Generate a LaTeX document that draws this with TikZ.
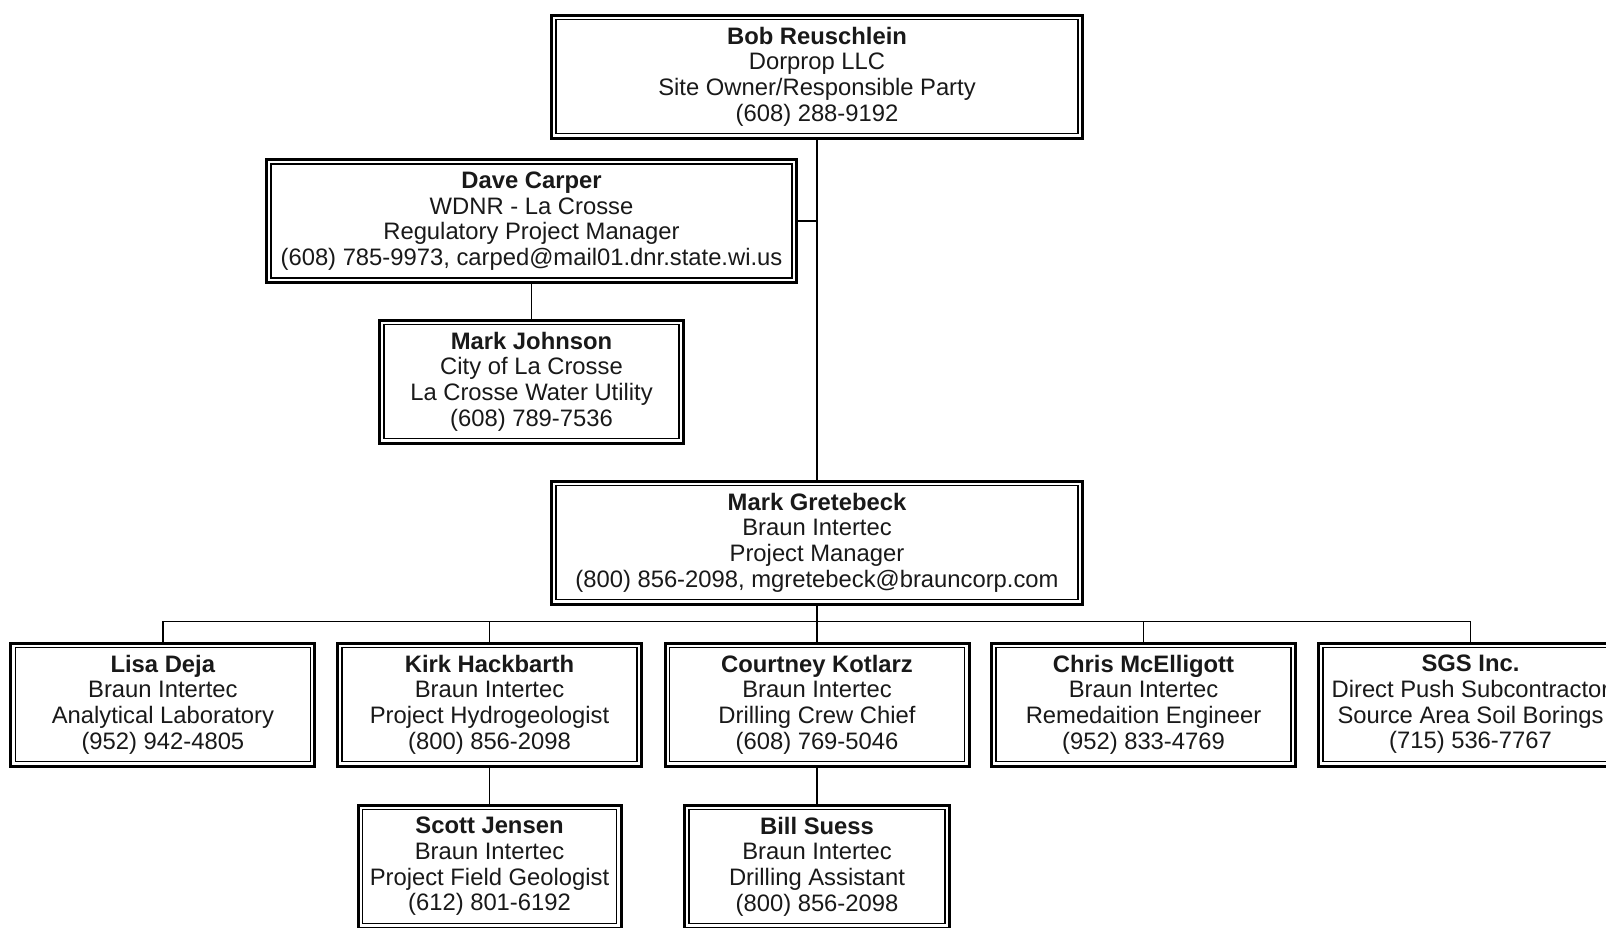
\documentclass[tikz,border=0pt]{standalone}
\usepackage{fontspec}
\setmainfont{Liberation Sans}
\begin{document}
\begin{tikzpicture}[x=1pt, y=-1pt, line width=1.5pt,
  font=\fontsize{23.8}{25.6}\selectfont,
  card/.style={draw, line width=3pt, align=center, inner sep=0pt,
    minimum width=#1, minimum height=123pt, text=black!90,
    path picture={\draw[line width=1.5pt]
      ([shift={(4.5pt,4.5pt)}]path picture bounding box.south west) rectangle
      ([shift={(-4.5pt,-4.5pt)}]path picture bounding box.north east);}},
  card/.default=304pt]
\useasboundingbox[fill=white] (0,0) rectangle (1606,927);
%top
\node[card=531pt] (bob) at (817,76.5)
  {\textbf{Bob Reuschlein}\\Dorprop LLC\\Site Owner/Responsible Party\\(608) 288-9192};
\node[card=530pt] (dave) at (531.5,221)
  {\textbf{Dave Carper}\\WDNR - La Crosse\\Regulatory Project Manager\\(608) 785-9973, carped@mail01.dnr.state.wi.us};
\node[card] (johnson) at (531.5,381.5)
  {\textbf{Mark Johnson}\\City of La Crosse\\La Crosse Water Utility\\(608) 789-7536};
\node[card=531pt] (greta) at (817,542.5)
  {\textbf{Mark Gretebeck}\\Braun Intertec\\Project Manager\\(800) 856-2098, mgretebeck@brauncorp.com};
%staff
\node[card] (lisa) at (162.9,704.5)
  {\textbf{Lisa Deja}\\Braun Intertec\\Analytical Laboratory\\(952) 942-4805};
\node[card] (kirk) at (489.5,704.5)
  {\textbf{Kirk Hackbarth}\\Braun Intertec\\Project Hydrogeologist\\(800) 856-2098};
\node[card] (courtney) at (817,704.5)
  {\textbf{Courtney Kotlarz}\\Braun Intertec\\Drilling Crew Chief\\(608) 769-5046};
\node[card] (chris) at (1143.5,704.5)
  {\textbf{Chris McElligott}\\Braun Intertec\\Remedaition Engineer\\(952) 833-4769};
\node[card] (sgs) at (1470.5,704.5)
  {\textbf{SGS Inc.}\\Direct Push Subcontractor\\Source Area Soil Borings\\(715) 536-7767};
\node[card=263pt] (scott) at (489.5,866.5)
  {\textbf{Scott Jensen}\\Braun Intertec\\Project Field Geologist\\(612) 801-6192};
\node[card=265pt] (bill) at (817,866.5)
  {\textbf{Bill Suess}\\Braun Intertec\\Drilling Assistant\\(800) 856-2098};
%lines
\draw (bob.south) -- (greta.north);
\draw (dave.east) -- (dave.east -| bob.south);
\draw (dave.south) -- (johnson.north);
\coordinate (bus) at (817,621.7);
\draw (lisa.north) |- (bus) -| (sgs.north);
\foreach \n in {kirk,chris}
\draw (\n.north) -- (\n.north |- bus);
\draw (greta.south) -- (courtney.north);
\draw (kirk.south) -- (scott.north);
\draw (courtney.south) -- (bill.north);
\end{tikzpicture}
\end{document}
